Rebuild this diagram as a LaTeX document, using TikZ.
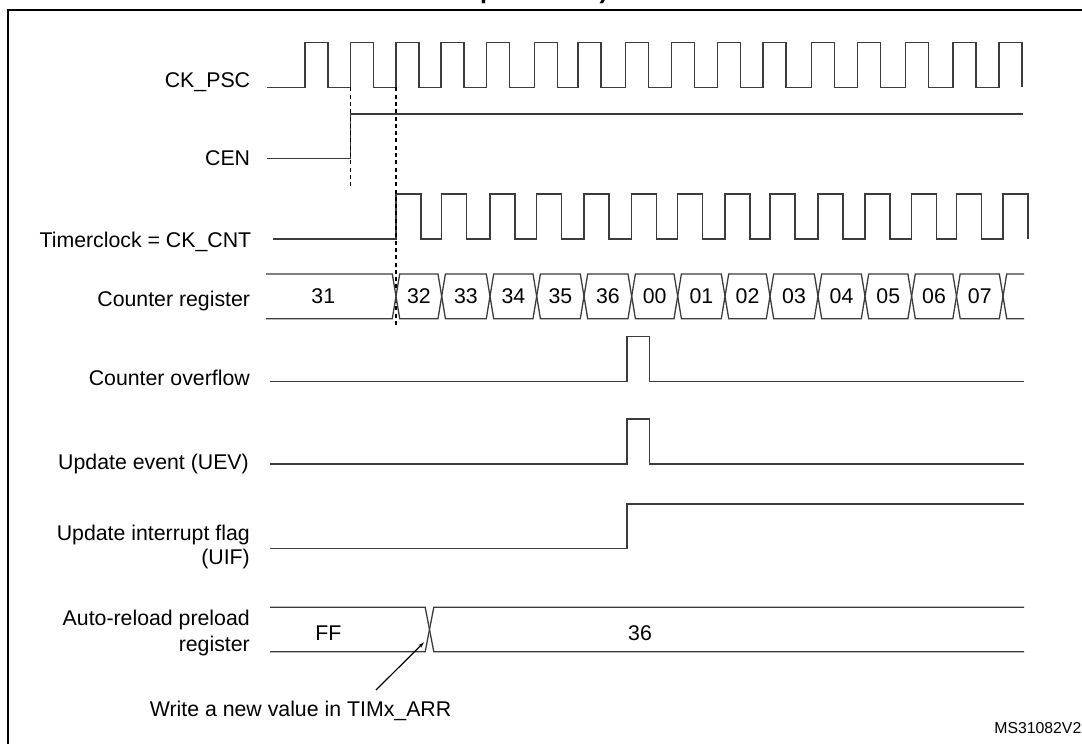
\documentclass[tikz,border=0pt]{standalone}
\usepackage{fontspec}
\setmainfont{Liberation Sans}
\usetikzlibrary{arrows.meta}
\definecolor{wavegray}{HTML}{3C3C3C}
\tikzset{
  wave/.style={draw=wavegray, line width=1.3pt},
  signame/.style={anchor=base east, inner sep=0pt, align=right, font=\fontsize{21.3}{24}\selectfont},
  busval/.style={anchor=base, inner sep=0pt, font=\fontsize{21.3}{24}\selectfont},
  guide/.style={draw=black, line width=1.2pt, dash pattern=on 4pt off 3.3pt}
}
\begin{document}
\begin{tikzpicture}[x=1pt,y=-1pt]
                \useasboundingbox (0,0) rectangle (1082,744);
                \clip (0,0) rectangle (1082,744);
                \node[anchor=base west, inner sep=0pt, font=\bfseries\fontsize{25}{30}\selectfont] (title) at (480,-1.5) {preloaded)};
                \draw[line width=2pt] (7.5,10) rectangle (1100,770);
                \node[signame] (ckpsc) at (250.3,87.3) {CK\_PSC};
                \node[signame] (cen) at (250.3,165) {CEN};
                \node[signame] (ckcnt) at (251.4,247.3) {Timerclock = CK\_CNT};
                \node[signame] (cntreg) at (250.3,306) {Counter register};
                \node[signame] (ovf) at (250,385.7) {Counter overflow};
                \node[signame] (uev) at (249,469.3) {Update event (UEV)};
                \node[signame] (uif) at (250,564.3) {Update interrupt flag\\(UIF)};
                \node[signame, font=\fontsize{21.3}{25.3}\selectfont] (arr) at (250,651) {Auto-reload preload\\register};
                \draw[wave] (267.3,87.3) \foreach \t in {305,350.7,396,441,486.6,534.8,578,625.7,671.4,717.3,763,811.3,857.3,905.7,953,999} { -- (\t,87.3) -- ++(0,-45) -- ++(23,0) -- ++(0,45) };
                \draw[wave] (267.3,158.3) -- (350.7,158.3) -- (350.7,114) -- (1023,114);
                \draw[wave] (273.3,239) \foreach \t in {396,441.7,490,536.7,584,631.7,677.7,725,770,818,865,911.6,956.5,1003} { -- (\t,239) -- ++(0,-45) -- ++(25,0) -- ++(0,45) };
                \draw[guide] (350.7,87.3) -- (350.7,188.3);
                \draw[guide] (396,87.3) -- (396,326);
                \draw[wave] (266,274) -- (392.3,274) -- (396,296.3) -- (392.3,318.7) -- (266,318.7);
                \node[busval] (cnt31) at (323.3,303) {31};
                \foreach \val/\ta/\tb [count=\i] in {32/396/441.7,33/441.7/490,34/490/536.7,35/536.7/584,36/584/631.7,00/631.7/677.7,01/677.7/725,02/725/770,03/770/818,04/818/865,05/865/911.6,06/911.6/956.5,07/956.5/1003} {
                    \draw[wave] (\ta,296.3) -- (\ta+3.7,274) -- (\tb-3.7,274) -- (\tb,296.3) -- (\tb-3.7,318.7) -- (\ta+3.7,318.7) -- cycle;
                    \node[busval] (cnt\i) at ({(\ta+\tb)/2},303) {\val};
                }
                \draw[wave] (1024,274) -- (1006.7,274) -- (1003,296.3) -- (1006.7,318.7) -- (1024,318.7);
                \draw[wave] (270,381.7) -- (627,381.7) -- (627,336.7) -- (649.3,336.7) -- (649.3,381.7) -- (1024,381.7);
                \draw[wave] (270,464) -- (627,464) -- (627,419) -- (649.3,419) -- (649.3,464) -- (1024,464);
                \draw[wave] (270,548.3) -- (627,548.3) -- (627,504) -- (1024,504);
                \draw[wave] (270,607.3) -- (425.2,607.3) -- (433.8,651.7) -- (1024,651.7);
                \draw[wave] (270,651.7) -- (425.2,651.7) -- (433.8,607.3) -- (1024,607.3);
                \node[busval] (ff) at (328.3,640.7) {FF};
                \node[busval] (new) at (640,640.7) {36};
                \node[anchor=base west, inner sep=0pt, font=\fontsize{21.3}{24}\selectfont] (write) at (149.6,716) {Write a new value in TIMx\_ARR};
                \coordinate (wrtail) at (376,690);
                \coordinate (wrtip) at (424,642.3);
                \draw[black, line width=1.2pt, -{Stealth[length=6pt,width=3.5pt]}] (wrtail) -- (wrtip);
                \node[anchor=base east, inner sep=0pt, font=\fontsize{15.8}{18}\selectfont] (ms) at (1081.5,733.3) {MS31082V2};
            \end{tikzpicture}
\end{document}
